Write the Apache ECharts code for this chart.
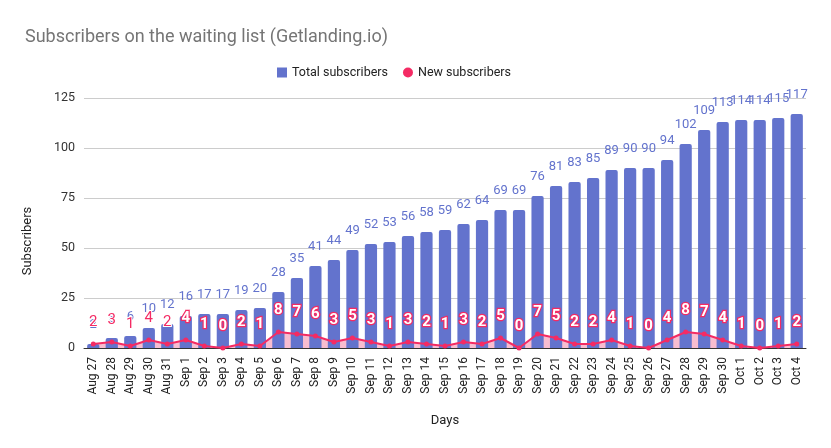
<!DOCTYPE html>
<html>
<head>
<meta charset="utf-8">
<script src="https://cdn.jsdelivr.net/npm/echarts@6/dist/echarts.min.js"></script>
<style>html,body{margin:0;padding:0;background:#fff;}#c{width:831px;height:448px;}</style>
</head>
<body>
<div id="c"></div>
<script>
const days = ["Aug 27","Aug 28","Aug 29","Aug 30","Aug 31","Sep 1","Sep 2","Sep 3","Sep 4","Sep 5","Sep 6","Sep 7","Sep 8","Sep 9","Sep 10","Sep 11","Sep 12","Sep 13","Sep 14","Sep 15","Sep 16","Sep 17","Sep 18","Sep 19","Sep 20","Sep 21","Sep 22","Sep 23","Sep 24","Sep 25","Sep 26","Sep 27","Sep 28","Sep 29","Sep 30","Oct 1","Oct 2","Oct 3","Oct 4"];
const totalSubscribers = [2,5,6,10,12,16,17,17,19,20,28,35,41,44,49,52,53,56,58,59,62,64,69,69,76,81,83,85,89,90,90,94,102,109,113,114,114,115,117];
const newSubscribers = [2,3,1,4,2,4,1,0,2,1,8,7,6,3,5,3,1,3,2,1,3,2,5,0,7,5,2,2,4,1,0,4,8,7,4,1,0,1,2];
const yTicks = [0,25,50,75,100,125];

const BAR = '#6373cd', RED = '#f42b64', AREA = '#f8bdd0';
const FONT = 'Roboto, Arial, sans-serif';

// label sits ~10.5 units above its point; if that is above the bar top it is on white background
const newData = newSubscribers.map((v, i) => {
  const onWhite = v + 10.5 > totalSubscribers[i];
  return onWhite
    ? {value: v, label: {color: RED, fontWeight: 'normal', textBorderColor: '#fff', textBorderWidth: 2}}
    : {value: v};
});

const chart = echarts.init(document.getElementById('c'), null, {renderer: 'canvas'});
chart.setOption({
  animation: false,
  textStyle: {fontFamily: FONT},
  title: {
    text: 'Subscribers on the waiting list (Getlanding.io)',
    left: 20, top: 23,
    textStyle: {fontFamily: FONT, fontSize: 18, fontWeight: 'normal', color: '#757575'}
  },
  legend: {
    top: 61, left: 272,
    data: [{name: 'Total subscribers', icon: 'rect'}, {name: 'New subscribers', icon: 'circle'}],
    itemWidth: 10, itemHeight: 10, itemGap: 15,
    textStyle: {fontFamily: FONT, fontSize: 12.5, color: '#222'}
  },
  grid: {left: 84, right: 25, top: 98, bottom: 100, containLabel: false},
  xAxis: {
    type: 'category', data: days,
    name: 'Days', nameLocation: 'middle', nameGap: 66,
    nameTextStyle: {fontFamily: FONT, fontSize: 13, color: '#222'},
    axisLine: {lineStyle: {color: '#333', width: 1}},
    axisTick: {show: false},
    axisLabel: {rotate: 90, interval: 0, fontSize: 12, color: '#222', margin: 9, fontFamily: FONT}
  },
  yAxis: {
    type: 'value', min: yTicks[0], max: yTicks[yTicks.length - 1], interval: 25,
    name: 'Subscribers', nameLocation: 'middle', nameGap: 50, nameRotate: 90,
    nameTextStyle: {fontFamily: FONT, fontSize: 13, color: '#222', padding: [0, 0, 0, -36]},
    axisLine: {show: false},
    axisTick: {show: false},
    axisLabel: {fontSize: 12.5, color: '#333', margin: 9, fontFamily: FONT},
    splitLine: {lineStyle: {color: '#cccccc', width: 1}}
  },
  series: [
    {
      name: 'newArea', type: 'line', data: newSubscribers, z: 1, silent: true,
      symbol: 'none', lineStyle: {width: 0, opacity: 0},
      areaStyle: {color: AREA, opacity: 1}, tooltip: {show: false}
    },
    {
      name: 'Total subscribers', type: 'bar', data: totalSubscribers, z: 2,
      barWidth: '66%',
      itemStyle: {color: BAR, borderRadius: [2, 2, 0, 0]},
      label: {show: true, position: 'top', distance: 13, color: BAR, fontSize: 13, fontFamily: FONT}
    },
    {
      name: 'New subscribers', type: 'line', data: newData, z: 5,
      symbol: 'circle', symbolSize: 5,
      lineStyle: {color: RED, width: 2},
      itemStyle: {color: RED},
      label: {
        show: true, position: 'top', distance: 12,
        color: '#fff', fontSize: 15, fontWeight: 'bold', fontFamily: FONT,
        textBorderColor: RED, textBorderWidth: 2.5
      }
    }
  ]
});
</script>
</body>
</html>
